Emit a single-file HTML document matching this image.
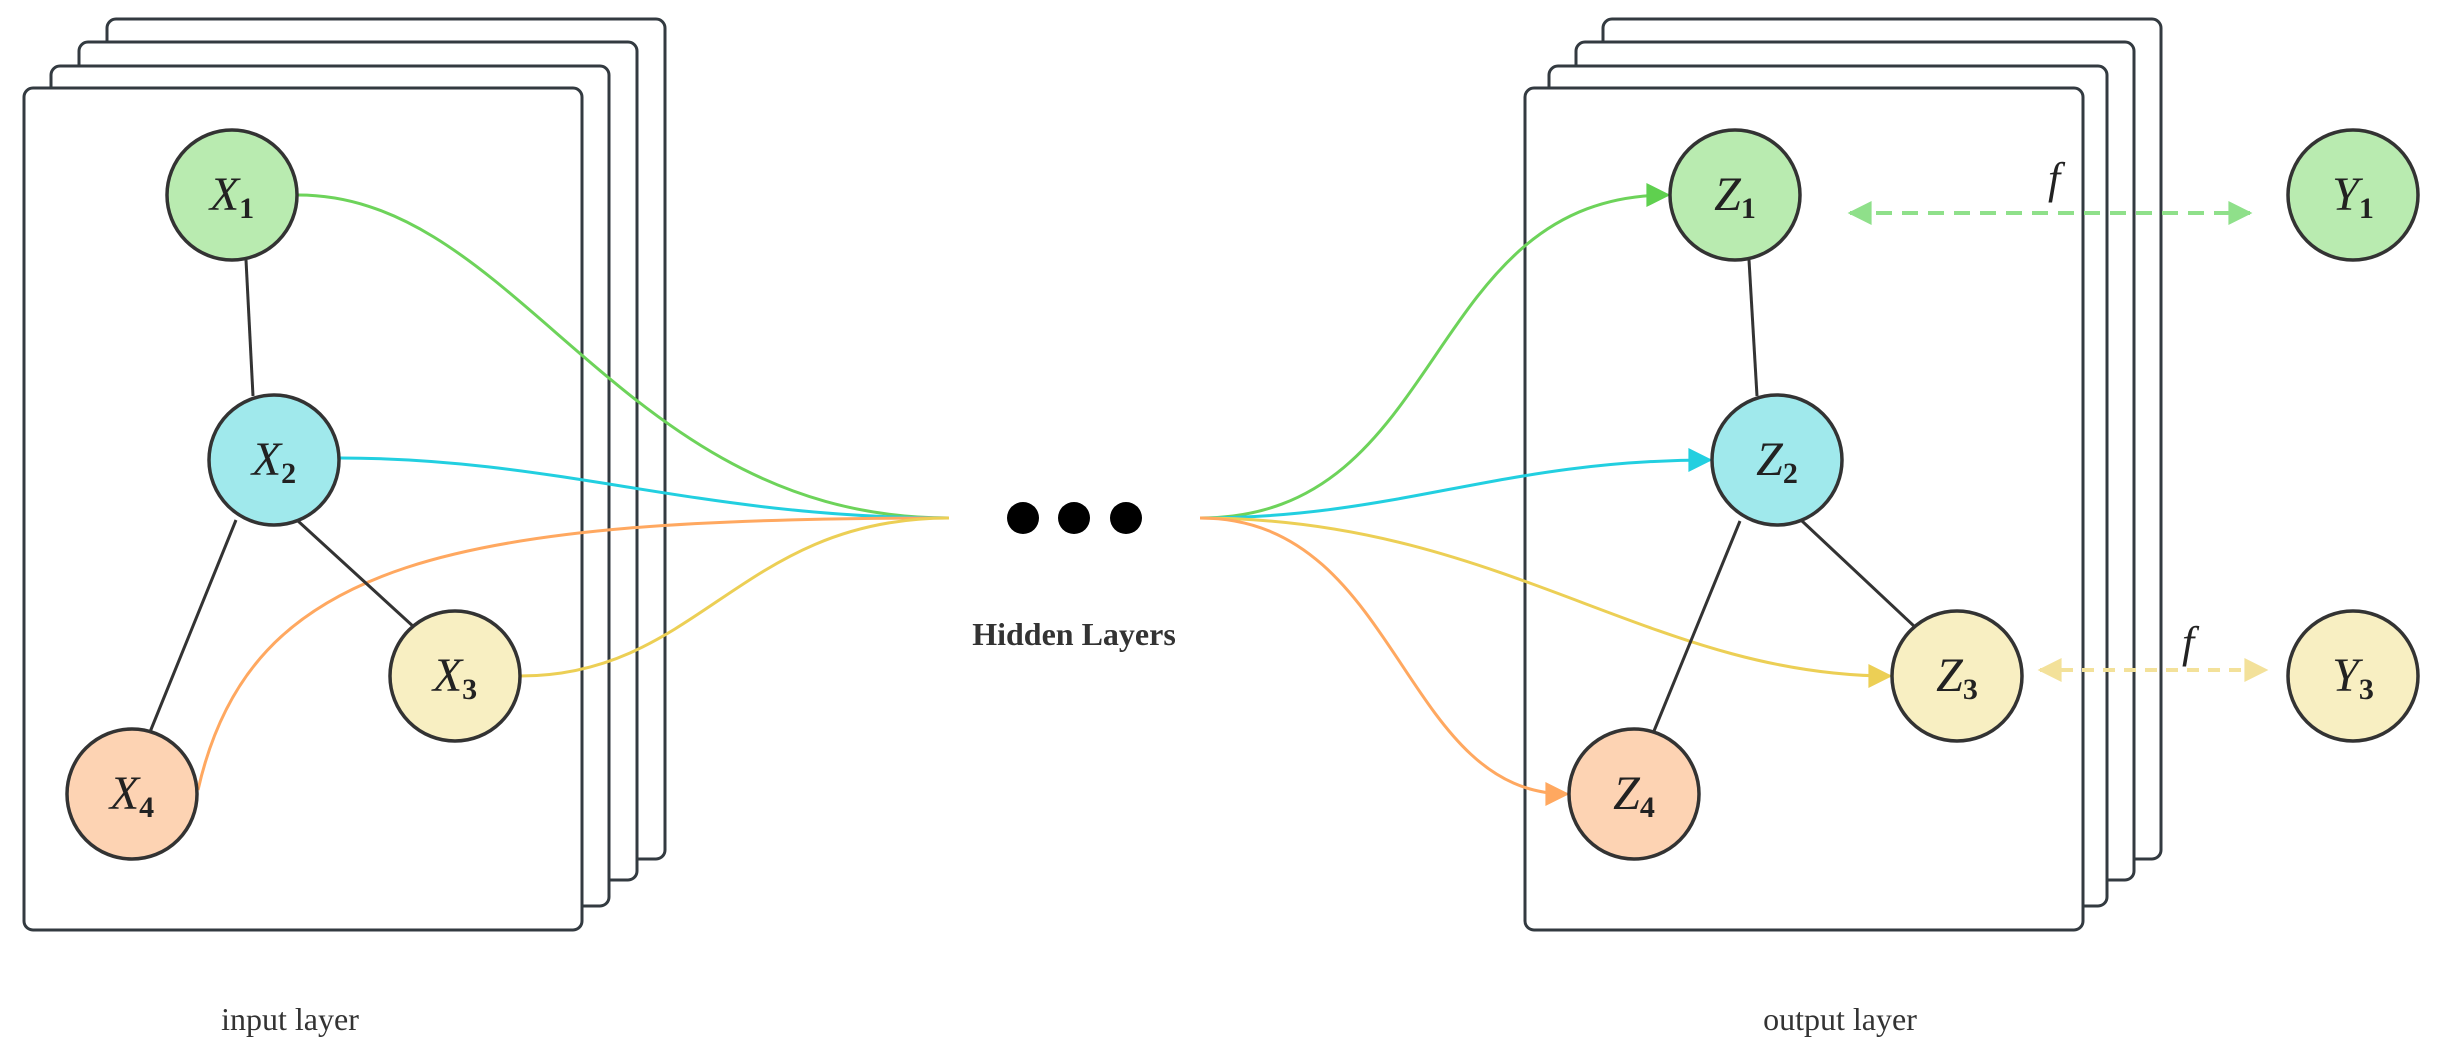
<!DOCTYPE html>
<html><head><meta charset="utf-8"><style>html,body{margin:0;padding:0;background:#fff}svg{display:block}</style></head>
<body>
<svg width="2439" height="1048" viewBox="0 0 2439 1048" xmlns="http://www.w3.org/2000/svg">
<defs>
<marker id="ac" viewBox="0 0 10 10" markerWidth="28" markerHeight="24" refX="9" refY="5" orient="auto" markerUnits="userSpaceOnUse"><path d="M0,0 L10,5 L0,10z" fill="#22cfe0"/></marker>
<marker id="agg" viewBox="0 0 10 10" markerWidth="28" markerHeight="24" refX="9" refY="5" orient="auto" markerUnits="userSpaceOnUse"><path d="M0,0 L10,5 L0,10z" fill="#5fd04f"/></marker>
<marker id="ay" viewBox="0 0 10 10" markerWidth="28" markerHeight="24" refX="9" refY="5" orient="auto" markerUnits="userSpaceOnUse"><path d="M0,0 L10,5 L0,10z" fill="#eccf55"/></marker>
<marker id="ao" viewBox="0 0 10 10" markerWidth="28" markerHeight="24" refX="9" refY="5" orient="auto" markerUnits="userSpaceOnUse"><path d="M0,0 L10,5 L0,10z" fill="#ffa860"/></marker>
<marker id="dg" viewBox="0 0 10 10" markerWidth="32" markerHeight="24" refX="9" refY="5" orient="auto-start-reverse" markerUnits="userSpaceOnUse"><path d="M0,0 L10,5 L0,10z" fill="#8fe08a"/></marker>
<marker id="dy" viewBox="0 0 10 10" markerWidth="32" markerHeight="24" refX="9" refY="5" orient="auto-start-reverse" markerUnits="userSpaceOnUse"><path d="M0,0 L10,5 L0,10z" fill="#f3e19a"/></marker>
</defs>
<g fill="#fff" stroke="#333a40" stroke-width="3">
<rect x="107" y="19" width="558" height="840" rx="9"/>
<rect x="79" y="42" width="558" height="838" rx="9"/>
<rect x="51" y="66" width="558" height="840" rx="9"/>
<rect x="24" y="88" width="558" height="842" rx="9"/>
<rect x="1603" y="19" width="558" height="840" rx="9"/>
<rect x="1576" y="42" width="558" height="838" rx="9"/>
<rect x="1549" y="66" width="558" height="840" rx="9"/>
<rect x="1525" y="88" width="558" height="842" rx="9"/>
</g>
<g fill="none" stroke-width="3">
<path d="M298,195 C520,195 620,518 949,518" stroke="#6dd35a"/>
<path d="M340,458 C560,458 700,518 949,518" stroke="#22cfe0"/>
<path d="M198,790 C250,560 450,518 949,518" stroke="#ffa860"/>
<path d="M520,676 C700,676 740,518 949,518" stroke="#eccf55"/>
</g>
<g fill="none" stroke-width="3">
<path d="M1200,518 C1450,518 1420,195 1668,195" stroke="#6dd35a" marker-end="url(#agg)"/>
<path d="M1200,518 C1400,518 1500,460 1710,460" stroke="#22cfe0" marker-end="url(#ac)"/>
<path d="M1200,518 C1500,518 1650,676 1890,676" stroke="#eccf55" marker-end="url(#ay)"/>
<path d="M1200,518 C1400,518 1400,794 1567,794" stroke="#ffa860" marker-end="url(#ao)"/>
</g>
<line x1="1850" y1="213" x2="2250" y2="213" stroke="#8fe08a" stroke-width="4" stroke-dasharray="16,10" marker-start="url(#dg)" marker-end="url(#dg)"/>
<line x1="2040" y1="670" x2="2266" y2="670" stroke="#f3e19a" stroke-width="4" stroke-dasharray="12,9" marker-start="url(#dy)" marker-end="url(#dy)"/>
<g font-family="Liberation Serif, serif" font-style="italic" font-size="44" fill="#222">
<text x="2048" y="193">f</text>
<text x="2182" y="657">f</text>
</g>
<g stroke="#333" stroke-width="3">
<line x1="246" y1="260" x2="253" y2="396"/><line x1="298" y1="521" x2="415" y2="628"/><line x1="236" y1="520" x2="150" y2="732"/>
<line x1="1749" y1="260" x2="1757" y2="396"/><line x1="1802" y1="521" x2="1915" y2="627"/><line x1="1740" y1="521" x2="1654" y2="731"/>
</g>
<g stroke="#333" stroke-width="3.5">
<circle cx="232" cy="195" r="65" fill="#b9ebb0"/>
<circle cx="274" cy="460" r="65" fill="#a0e9ec"/>
<circle cx="455" cy="676" r="65" fill="#f8efc2"/>
<circle cx="132" cy="794" r="65" fill="#fdd3b3"/>
<circle cx="1735" cy="195" r="65" fill="#b9ebb0"/>
<circle cx="1777" cy="460" r="65" fill="#a0e9ec"/>
<circle cx="1957" cy="676" r="65" fill="#f8efc2"/>
<circle cx="1634" cy="794" r="65" fill="#fdd3b3"/>
<circle cx="2353" cy="195" r="65" fill="#b9ebb0"/>
<circle cx="2353" cy="676" r="65" fill="#f8efc2"/>
</g>
<g font-family="Liberation Serif, serif" font-size="48" fill="#222">
<text x="232" y="210" text-anchor="middle"><tspan font-style="italic">X</tspan><tspan font-size="30" font-weight="bold" dy="8">1</tspan></text>
<text x="274" y="475" text-anchor="middle"><tspan font-style="italic">X</tspan><tspan font-size="30" font-weight="bold" dy="8">2</tspan></text>
<text x="455" y="691" text-anchor="middle"><tspan font-style="italic">X</tspan><tspan font-size="30" font-weight="bold" dy="8">3</tspan></text>
<text x="132" y="809" text-anchor="middle"><tspan font-style="italic">X</tspan><tspan font-size="30" font-weight="bold" dy="8">4</tspan></text>
<text x="1735" y="210" text-anchor="middle"><tspan font-style="italic">Z</tspan><tspan font-size="30" font-weight="bold" dy="8">1</tspan></text>
<text x="1777" y="475" text-anchor="middle"><tspan font-style="italic">Z</tspan><tspan font-size="30" font-weight="bold" dy="8">2</tspan></text>
<text x="1957" y="691" text-anchor="middle"><tspan font-style="italic">Z</tspan><tspan font-size="30" font-weight="bold" dy="8">3</tspan></text>
<text x="1634" y="809" text-anchor="middle"><tspan font-style="italic">Z</tspan><tspan font-size="30" font-weight="bold" dy="8">4</tspan></text>
<text x="2353" y="210" text-anchor="middle"><tspan font-style="italic">Y</tspan><tspan font-size="30" font-weight="bold" dy="8">1</tspan></text>
<text x="2353" y="691" text-anchor="middle"><tspan font-style="italic">Y</tspan><tspan font-size="30" font-weight="bold" dy="8">3</tspan></text>
</g>
<g fill="#000"><circle cx="1023" cy="518" r="16"/><circle cx="1074" cy="518" r="16"/><circle cx="1126" cy="518" r="16"/></g>
<g font-family="Liberation Serif, serif" fill="#333">
<text x="1074" y="645" text-anchor="middle" font-size="32" font-weight="bold">Hidden Layers</text>
<text x="290" y="1030" text-anchor="middle" font-size="32">input layer</text>
<text x="1840" y="1030" text-anchor="middle" font-size="32">output layer</text>
</g>
</svg>
</body></html>
